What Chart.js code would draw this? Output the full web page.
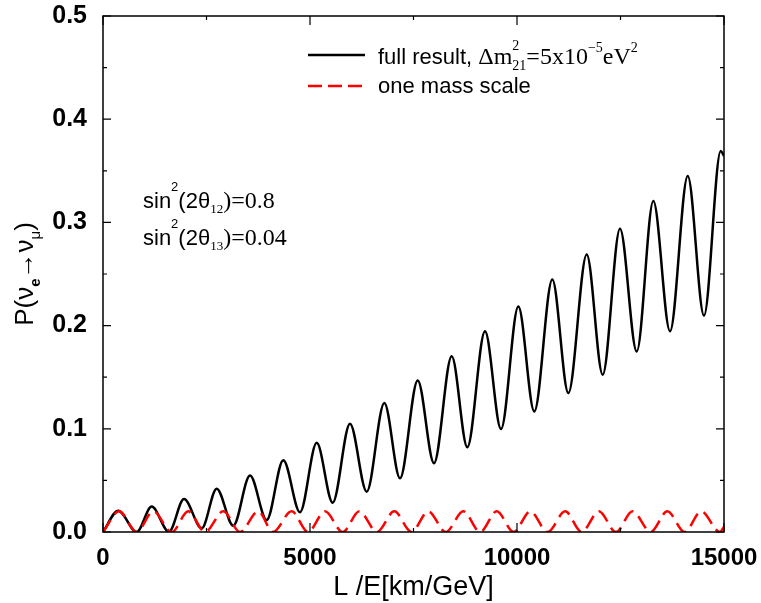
<!DOCTYPE html>
<html>
<head>
<meta charset="utf-8">
<script src="https://cdn.jsdelivr.net/npm/chart.js@4.4.1/dist/chart.umd.min.js"></script>
<style>
  html, body { margin: 0; padding: 0; background: #fff; }
  #wrap { width: 761px; height: 603px; position: relative; }
</style>
</head>
<body>
<div id="wrap"><canvas id="grafico"></canvas></div>
<script>
// full result: peaks and troughs (L/E in km/GeV, probability)
const fullL = [0, 370, 814, 1176, 1594, 1957, 2384, 2746, 3147, 3551, 3954, 4355, 4759, 5162,
  5548, 5966, 6370, 6795, 7174, 7602, 7995, 8423, 8800, 9227, 9614, 10032, 10418, 10853,
  11240, 11684, 12070, 12488, 12892, 13293, 13696, 14124, 14517, 14921, 15000];
const fullP = [0, 0.0207, 0.0, 0.0246, 0.0003, 0.032, 0.0036, 0.042, 0.0061, 0.0547, 0.0117, 0.0696,
  0.0192, 0.0864, 0.0284, 0.1049, 0.0391, 0.125, 0.0521, 0.1469, 0.0667, 0.1702, 0.0822,
  0.1945, 0.0997, 0.2184, 0.1168, 0.2447, 0.1347, 0.2689, 0.1524, 0.2939, 0.175, 0.3207,
  0.1945, 0.345, 0.2097, 0.3692, 0.3644];

// one mass scale
const oneL = [0, 390, 814, 1215, 1659, 2060, 2464, 2906, 3309, 3751, 4106, 4558, 4952, 5362,
  5790, 6191, 6620, 7036, 7450, 7858, 8280, 8703, 9110, 9510, 9920, 10320, 10740, 11165,
  11560, 11980, 12390, 12790, 13230, 13630, 14050, 14450, 14900, 15000];
const oneP = [0, 0.02, 0, 0.02, 0, 0.02, 0, 0.02, 0, 0.02, 0, 0.02, 0, 0.02, 0, 0.02, 0, 0.02,
  0, 0.02, 0, 0.02, 0, 0.02, 0, 0.02, 0, 0.02, 0, 0.02, 0, 0.02, 0, 0.02, 0, 0.02, 0, 0.005];

const sans = '"Liberation Sans", Arial, sans-serif';
const serif = '"Liberation Serif", "Times New Roman", serif';

const toPoints = (xs, ys) => xs.map((x, i) => ({ x: x, y: ys[i] }));

// draws a sequence of text pieces (for sub/superscripts)
function drawParts(ctx, x, y, parts, measureOnly) {
    let cx = x;
    let keptW = 0;
    parts.forEach(p => {
        ctx.font = p.f;
        const w = ctx.measureText(p.t).width;
        if (!measureOnly) ctx.fillText(p.t, cx, y + (p.dy || 0));
        if (p.keep) {
            keptW = w;
        } else {
            cx += Math.max(w, keptW);
            keptW = 0;
        }
    });
    return cx - x;
}

const decorPlugin = {
    id: 'decor',
    afterDraw(chart) {
        const ctx = chart.ctx;
        const a = chart.chartArea;
        const xs = chart.scales.x;
        const ys = chart.scales.y;
        ctx.save();
        ctx.strokeStyle = '#000';
        ctx.fillStyle = '#000';

        // frame
        ctx.lineWidth = 1.5;
        ctx.strokeRect(a.left, a.top, a.right - a.left, a.bottom - a.top);

        // inward ticks
        ctx.lineWidth = 1.2;
        ctx.beginPath();
        for (let v = 0; v <= 15000; v += 2500) {
            const px = xs.getPixelForValue(v);
            const len = v % 5000 === 0 ? 9 : 4;
            ctx.moveTo(px, a.bottom); ctx.lineTo(px, a.bottom - len);
            ctx.moveTo(px, a.top); ctx.lineTo(px, a.top + len);
        }
        for (let k = 0; k <= 10; k++) {
            const py = ys.getPixelForValue(k * 0.05);
            const len = k % 2 === 0 ? 8 : 4;
            ctx.moveTo(a.left, py); ctx.lineTo(a.left + len, py);
            ctx.moveTo(a.right, py); ctx.lineTo(a.right - len, py);
        }
        ctx.stroke();

        // legend
        ctx.lineWidth = 2.5;
        ctx.beginPath();
        ctx.moveTo(308, 55); ctx.lineTo(365, 55);
        ctx.stroke();
        ctx.strokeStyle = '#ff0000';
        ctx.setLineDash([14, 6]);
        ctx.beginPath();
        ctx.moveTo(308, 86); ctx.lineTo(366, 86);
        ctx.stroke();
        ctx.setLineDash([]);

        ctx.textAlign = 'left';
        ctx.textBaseline = 'alphabetic';
        drawParts(ctx, 378, 64, [
            { t: 'full result, ', f: '22px ' + sans },
            { t: 'Δm', f: '24px ' + serif },
            { t: '2', f: '14px ' + serif, dy: -14, keep: true },
            { t: '21', f: '14px ' + serif, dy: 6 },
            { t: '=5x10', f: '24px ' + serif },
            { t: '−5', f: '14px ' + serif, dy: -12 },
            { t: 'eV', f: '24px ' + serif },
            { t: '2', f: '14px ' + serif, dy: -12 }
        ]);
        drawParts(ctx, 378, 93, [{ t: 'one mass scale', f: '22px ' + sans }]);

        // mixing parameters
        [['12', '0.8', 208], ['13', '0.04', 245]].forEach(r => {
            drawParts(ctx, 143, r[2], [
                { t: 'sin', f: '22px ' + sans },
                { t: '2', f: '13px ' + sans, dy: -17 },
                { t: '(2θ', f: '22px ' + sans },
                { t: r[0], f: '13px ' + serif, dy: 5 },
                { t: ')=' + r[1], f: '24px ' + serif }
            ]);
        });

        // x title
        ctx.font = '27px ' + sans;
        ctx.textAlign = 'center';
        ctx.fillText('L /E[km/GeV]', (a.left + a.right) / 2, 595);

        // y title, rotated
        const yParts = [
            { t: 'P(ν', f: '26px ' + sans },
            { t: 'e', f: 'bold 15px ' + sans, dy: 7 },
            { t: '→ν', f: '26px ' + sans },
            { t: 'μ', f: '15px ' + sans, dy: 7 },
            { t: ')', f: '26px ' + sans }
        ];
        ctx.textAlign = 'left';
        const w = drawParts(ctx, 0, 0, yParts, true);
        ctx.translate(33, (a.top + a.bottom) / 2);
        ctx.rotate(-Math.PI / 2);
        drawParts(ctx, -w / 2, 0, yParts);
        ctx.restore();
    }
};

const ctx = document.getElementById('grafico').getContext('2d');

const myChart = new Chart(ctx, {
    type: 'line',
    data: {
        datasets: [
            {
                label: 'one mass scale',
                data: toPoints(oneL, oneP),
                borderColor: '#ff0000',
                borderWidth: 2.5,
                borderDash: [14, 7],
                cubicInterpolationMode: 'monotone',
                fill: false,
                order: 1
            },
            {
                label: 'full result',
                data: toPoints(fullL, fullP),
                borderColor: '#000000',
                borderWidth: 2.5,
                cubicInterpolationMode: 'monotone',
                fill: false,
                order: 2
            }
        ]
    },
    options: {
        responsive: true,
        maintainAspectRatio: false,
        animation: false,
        layout: { padding: { top: 16, right: 37, left: 0, bottom: 0 } },
        elements: { point: { radius: 0 } },
        plugins: {
            legend: { display: false },
            tooltip: { enabled: false }
        },
        scales: {
            x: {
                type: 'linear',
                min: 0,
                max: 15000,
                grid: { display: false, drawTicks: false },
                border: { display: false },
                ticks: {
                    stepSize: 5000,
                    color: '#000',
                    padding: 12,
                    maxRotation: 0,
                    font: { family: sans, size: 24, weight: 'bold' },
                    callback: function(value) {
                        return String(value);
                    }
                },
                afterFit: function(scale) {
                    scale.height = 71;
                    scale.paddingLeft = 0;
                    scale.paddingRight = 0;
                }
            },
            y: {
                min: 0,
                max: 0.5,
                grid: { display: false, drawTicks: false },
                border: { display: false },
                ticks: {
                    stepSize: 0.1,
                    color: '#000',
                    padding: 16,
                    font: { family: sans, size: 25, weight: 'bold' },
                    callback: function(value) {
                        return value.toFixed(1);
                    }
                },
                afterFit: function(scale) {
                    scale.width = 103;
                    scale.paddingTop = 0;
                    scale.paddingBottom = 0;
                }
            }
        }
    },
    plugins: [decorPlugin]
});
</script>
</body>
</html>
